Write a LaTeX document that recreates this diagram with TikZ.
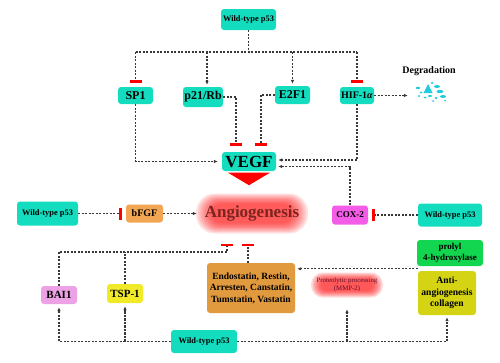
\documentclass[tikz,border=0pt]{standalone}
\usepackage{fontspec}
\setmainfont{Liberation Serif}
\usetikzlibrary{arrows.meta, calc, backgrounds}

\definecolor{tealc}{HTML}{14DCBE}
\definecolor{bfgfc}{HTML}{F2A653}
\definecolor{endoc}{HTML}{E29A3E}
\definecolor{coxc}{HTML}{F25CE6}
\definecolor{baic}{HTML}{EEA2E6}
\definecolor{tspc}{HTML}{F0EA28}
\definecolor{prolc}{HTML}{12D650}
\definecolor{collc}{HTML}{D4D414}
\definecolor{angioc}{HTML}{7E2420}
\definecolor{mmpc}{HTML}{5E1030}
\definecolor{linec}{HTML}{383838}
\definecolor{degc}{HTML}{22CCDD}

\begin{document}
\begin{tikzpicture}[x=1pt, y=-1pt,
  box/.style={rounded corners=3pt, align=center, inner sep=0pt},
  tbox/.style={box, fill=tealc},
  fs/.style 2 args={font=\bfseries\fontsize{#1}{#2}\selectfont},
  dl/.style={draw=linec, line width=1.1pt, dash pattern=on 2.2pt off 1.3pt},
  arr/.style={dl, -{Latex[length=4pt,width=3.5pt]}, shorten >=2pt},
  inh/.style={dl, -{Bar[width=12pt,line width=2.5pt,color=red]}, shorten >=4pt}
]
  \useasboundingbox (0,0) rectangle (500,362);

  % upper part
  \node[tbox, minimum width=55pt, minimum height=21pt, fs={8.4}{10}] (wtt) at (248.5,19.5) {Wild-type p53};
  \node[tbox, minimum width=35pt, minimum height=17pt, fs={12}{14}] (sp1) at (135.5,95.5) {SP1};
  \node[tbox, minimum width=40pt, minimum height=20pt, fs={12}{14}] (p21) at (203,97) {p21/Rb};
  \node[tbox, minimum width=35pt, minimum height=18pt, fs={12}{14}] (e2f1) at (292.5,95) {E2F1};
  \node[tbox, minimum width=34pt, minimum height=17pt, fs={10}{12}] (hif) at (357,95.5) {HIF-1\textit{α}};
  \node[fs={10}{12}] (degtxt) at (429,71) {Degradation};
  \node[minimum width=30pt, minimum height=22pt] (degr) at (431,92) {};
  \node[tbox, minimum width=54pt, minimum height=19pt, fs={17}{19}] (vegf) at (249,161.5) {VEGF};

  % middle row
  \node[tbox, minimum width=61pt, minimum height=24pt, fs={8.4}{10}] (wtl) at (47.5,213.5) {Wild-type p53};
  \node[box, fill=bfgfc, minimum width=37pt, minimum height=18pt, fs={10}{12}] (bfgf) at (144.5,213.5) {bFGF};
  \node[minimum width=106pt, minimum height=54pt, text=angioc, fs={17}{19}] (angio) at (252,213.5) {Angiogenesis};
  \node[box, fill=coxc, minimum width=36pt, minimum height=19pt, fs={9}{11}] (cox2) at (350,215) {COX-2};
  \node[tbox, minimum width=64pt, minimum height=23pt, fs={8.4}{10}] (wtr) at (450,215) {Wild-type p53};

  % lower part
  \node[box, fill=prolc, minimum width=66pt, minimum height=26pt, fs={9}{10.5}] (prol) at (450,253) {prolyl\\4-hydroxylase};
  \node[box, fill=collc, minimum width=58pt, minimum height=44pt, fs={9.6}{11.7}] (coll) at (447,293) {Anti-\\angiogenesis\\collagen};
  \node[box, fill=endoc, minimum width=88pt, minimum height=50pt, fs={9.5}{11.5}] (endo) at (251,288) {Endostatin, Restin,\\Arresten, Canstatin,\\Tumstatin, Vastatin};
  \node[align=center, minimum height=44pt, inner sep=0pt, text=mmpc, font=\fontsize{6.8}{8}\selectfont] (mmp) at (347,285) {Proteolytic processing\\(MMP-2)};
  \node[box, fill=baic, minimum width=36pt, minimum height=18pt, fs={11}{13}] (bai1) at (59,295) {BAI1};
  \node[box, fill=tspc, minimum width=36pt, minimum height=19pt, fs={11}{13}] (tsp1) at (125,293.5) {TSP-1};
  \node[tbox, minimum width=66pt, minimum height=23pt, fs={8.4}{10}] (wtb) at (204,341.5) {Wild-type p53};

  % glows
  \begin{scope}[on background layer]
    \foreach \k in {0,...,7} {
      \pgfmathsetmacro\gw{56-2.2*\k}
      \pgfmathsetmacro\gh{20-1.4*\k}
      \pgfmathsetmacro\gr{0.95*\gh}
      \fill[red, opacity=0.12, rounded corners=\gr pt]
        ($(angio.center)+(-\gw,-\gh)$) rectangle ($(angio.center)+(\gw,\gh)$);
    }
    \foreach \k in {0,...,6} {
      \pgfmathsetmacro\gw{36-1.6*\k}
      \pgfmathsetmacro\gh{12.5-1.1*\k}
      \pgfmathsetmacro\gr{0.95*\gh}
      \fill[red, opacity=0.14, rounded corners=\gr pt]
        ($(mmp.center)+(-\gw,-\gh)$) rectangle ($(mmp.center)+(\gw,\gh)$);
    }
  \end{scope}

  % degradation fragments
  \fill[degc] (428,84) -- (432.5,93) -- (423.5,93) -- cycle;
  \fill[degc] (418,88) ellipse (2.2 and 1.2);
  \fill[degc] (421,92.5) ellipse (1.5 and 1);
  \fill[degc] (437,86.5) ellipse (3 and 1.5);
  \fill[degc] (440,91.5) ellipse (3.5 and 1.6);
  \fill[degc] (443,96.5) ellipse (3 and 1.5);
  \fill[degc] (436,98) ellipse (1.5 and 1.2);
  \fill[degc] (430,96) ellipse (2 and 1);
  \fill[degc] (425,97.5) ellipse (1.5 and 1);
  \fill[degc] (419,96) ellipse (1.2 and 1);
  \fill[degc] (433,101) circle (1);
  \fill[degc] (445,100.5) circle (1);
  \fill[degc] (432,83) ellipse (1.5 and 1);

  % p53 on top
  \coordinate (jt) at (wtt.south |- 0,52);
  \draw[dl] (wtt.south) -- (jt);
  \draw[dl] (sp1.north |- jt) -- (hif.north |- jt);
  \draw[inh] (sp1.north |- jt) -- (sp1.north);
  \draw[arr] ([xshift=4pt]p21.north |- jt) -- ([xshift=4pt]p21.north);
  \draw[arr] (e2f1.north |- jt) -- (e2f1.north);
  \draw[inh] (hif.north |- jt) -- (hif.north);
  \draw[arr, shorten >=8pt] (hif.east) -- (hif.east -| degr.west);

  % into VEGF
  \draw[arr, shorten >=4pt] (sp1.south) |- (vegf.west);
  \draw[inh, shorten >=6pt] (p21.east) -| ([xshift=-13pt]vegf.north);
  \draw[inh, shorten >=6pt] (e2f1.west) -| ([xshift=12pt]vegf.north);
  \draw[arr] (hif.south) |- ([yshift=1.5pt]vegf.east);
  \draw[arr] (cox2.north) |- ([yshift=-5pt]vegf.east);
  \fill[red] ([shift={(-21pt,-1.5pt)}]vegf.south) -- ([shift={(21pt,-1.5pt)}]vegf.south)
    -- ([yshift=-14pt]vegf.south) -- cycle;

  % middle row
  \draw[inh] (wtl.east) -- (bfgf.west);
  \draw[arr] (bfgf.east) -- (angio.west);
  \draw[inh] (wtr.west) -- (cox2.east);

  % inhibitors of angiogenesis
  \coordinate (jb) at (227,252);
  \draw[inh, shorten >=3pt] (bai1.north) |- (jb) -- (jb |- angio.south);
  \draw[dl] (tsp1.north) -- (tsp1.north |- jb);
  \draw[inh, shorten >=3pt] ([xshift=-3pt]endo.north) -- ([xshift=-3pt]endo.north |- angio.south);
  \draw[arr] ([yshift=2pt]coll.north west) -- ([yshift=2pt]coll.north west -| endo.east);

  % p53 at the bottom
  \draw[arr, shorten >=3pt] (wtb.west) -| (bai1.south);
  \draw[arr, shorten >=3pt] (tsp1.south |- wtb.west) -- (tsp1.south);
  \draw[arr] (wtb.east) -| (coll.south);
  \draw[arr] (mmp.south |- wtb.east) -- (mmp.south);
\end{tikzpicture}
\end{document}
